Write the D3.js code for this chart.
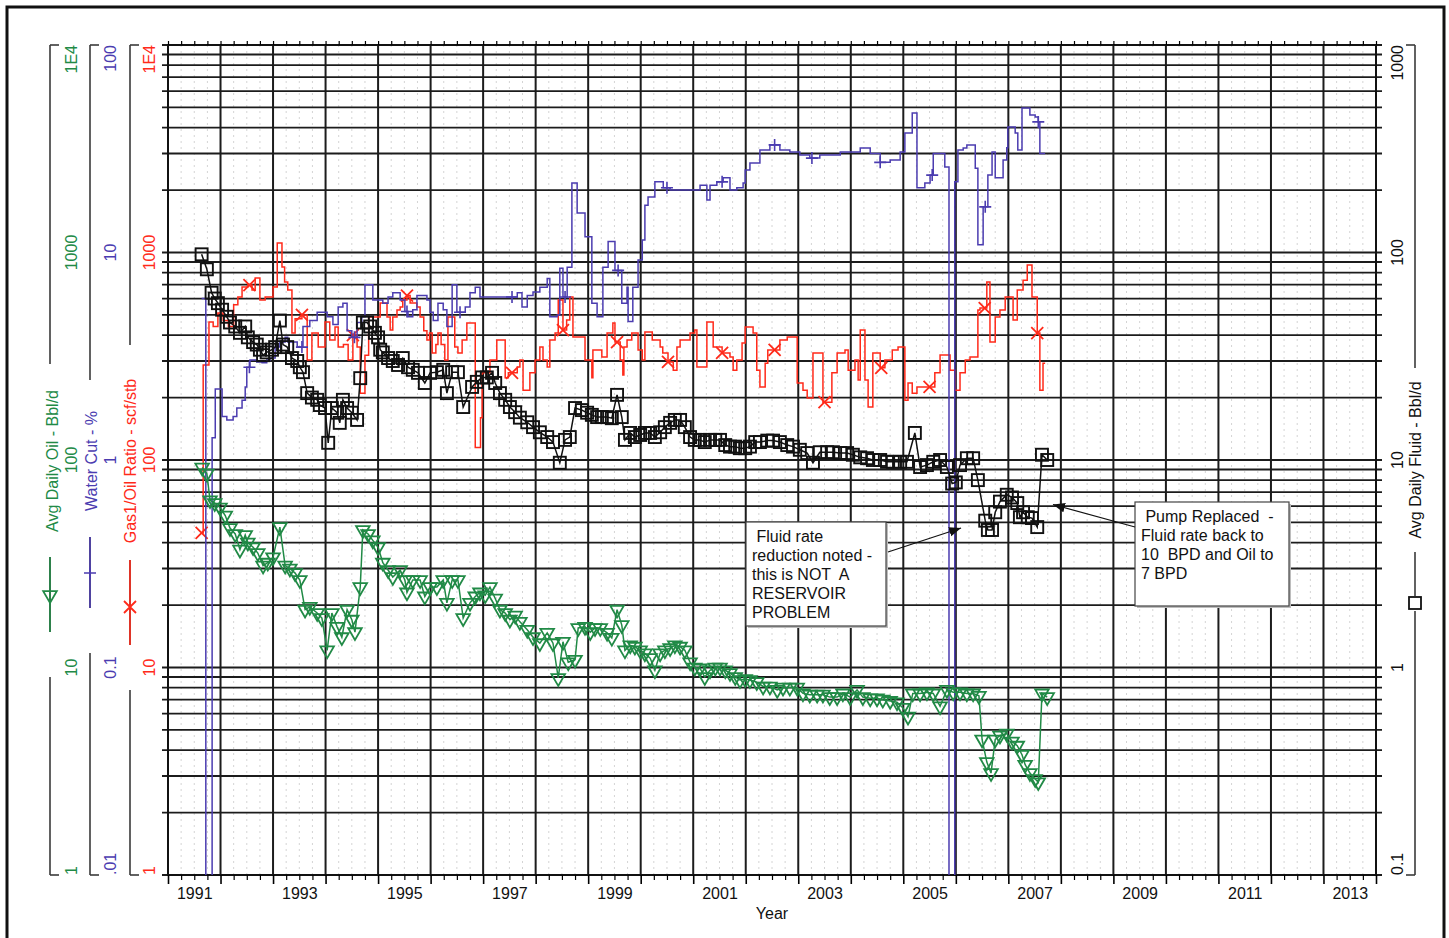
<!DOCTYPE html>
<html>
<head>
<meta charset="utf-8">
<script src="https://cdnjs.cloudflare.com/ajax/libs/d3/7.8.5/d3.min.js"></script>
<style>
  body { margin: 0; background: #fff; }
  svg { display: block; font-family: "Liberation Sans", Arial, sans-serif; }
</style>
</head>
<body>
<div id="chart"></div>
<script>
// ---- data: [decimal year, value] ----
var fluidPts = [[1991.64,98],[1991.74,83],[1991.83,64],[1991.89,60],[1991.95,57],[1992.03,53],[1992.12,49],[1992.18,46],[1992.28,44],[1992.37,41],[1992.47,44],[1992.52,39],[1992.62,37],[1992.69,36],[1992.75,34],[1992.81,32],[1992.88,33],[1992.98,34],[1993.04,35],[1993.13,47],[1993.19,36],[1993.27,35],[1993.36,31],[1993.46,30],[1993.51,28],[1993.57,26.5],[1993.65,21],[1993.74,20],[1993.84,19.5],[1993.89,18.4],[1993.99,17.8],[1994.05,12.1],[1994.12,17.8],[1994.22,16.9],[1994.27,15.1],[1994.33,19.5],[1994.41,17.8],[1994.50,16.9],[1994.60,15.6],[1994.66,24.8],[1994.71,46],[1994.79,46],[1994.85,44],[1994.94,41],[1995.00,39],[1995.04,34],[1995.09,33],[1995.19,31],[1995.28,30],[1995.38,28.7],[1995.47,31],[1995.57,28],[1995.66,27.2],[1995.76,26.3],[1995.89,23.5],[1995.99,26.3],[1996.12,26.5],[1996.24,27.2],[1996.31,21],[1996.41,26.5],[1996.52,26.5],[1996.62,18],[1996.79,22.5],[1996.88,23.8],[1996.98,25],[1997.07,25],[1997.17,26.3],[1997.23,23.5],[1997.32,21],[1997.42,19.5],[1997.51,18],[1997.61,17],[1997.70,16],[1997.84,15.2],[1997.95,14.4],[1998.08,13.6],[1998.22,12.9],[1998.33,12.2],[1998.46,9.7],[1998.56,12.5],[1998.65,12.9],[1998.75,17.8],[1998.88,17.4],[1998.98,16.9],[1999.07,16.5],[1999.17,16.1],[1999.26,16.1],[1999.36,16.1],[1999.45,15.9],[1999.55,20.6],[1999.64,16.1],[1999.70,12.5],[1999.80,13.5],[1999.89,12.9],[1999.99,13.2],[2000.08,13.5],[2000.18,13.5],[2000.27,12.9],[2000.37,13.6],[2000.46,14.4],[2000.56,15.1],[2000.65,15.6],[2000.75,15.6],[2000.84,14.4],[2000.94,12.9],[2001.03,12.5],[2001.13,12.5],[2001.22,12.2],[2001.32,12.5],[2001.42,12.5],[2001.51,12.5],[2001.61,11.8],[2001.70,11.6],[2001.80,11.6],[2001.89,11.4],[2001.99,11.4],[2002.08,11.6],[2002.18,12.2],[2002.27,12.2],[2002.41,12.4],[2002.52,12.4],[2002.65,12.2],[2002.79,11.8],[2002.90,11.6],[2003.03,11.2],[2003.17,10.8],[2003.28,9.7],[2003.41,10.9],[2003.55,10.9],[2003.66,10.9],[2003.80,10.8],[2003.93,10.8],[2004.04,10.6],[2004.18,10.3],[2004.31,10.2],[2004.42,10],[2004.56,10],[2004.69,9.8],[2004.80,9.8],[2004.94,9.8],[2005.07,9.8],[2005.22,13.5],[2005.32,9.25],[2005.45,9.45],[2005.57,9.8],[2005.70,10],[2005.83,9.25],[2005.93,7.7],[2006.00,7.8],[2006.08,9.45],[2006.21,10.2],[2006.33,10.2],[2006.42,8.0],[2006.56,5.1],[2006.61,4.6],[2006.69,4.6],[2006.75,5.6],[2006.84,6.3],[2006.97,6.8],[2007.07,6.6],[2007.17,6.2],[2007.22,5.3],[2007.28,5.6],[2007.37,5.3],[2007.45,5.25],[2007.55,4.75],[2007.64,10.6],[2007.74,10]];

var oilPts = [[1991.65,92],[1991.74,86],[1991.80,64],[1991.89,62],[1991.99,59],[1992.09,54],[1992.18,47],[1992.28,44],[1992.37,37],[1992.47,43.5],[1992.52,40],[1992.62,38],[1992.71,35.6],[1992.81,31],[1992.90,32],[1993.00,34],[1993.13,47.5],[1993.23,31],[1993.32,30],[1993.42,28.5],[1993.51,26.4],[1993.61,19],[1993.70,19.6],[1993.84,18.3],[1993.93,17.3],[1994.03,12.1],[1994.12,18.3],[1994.22,15.7],[1994.31,14],[1994.41,19],[1994.50,17],[1994.56,14.8],[1994.66,24.4],[1994.71,46],[1994.81,44],[1994.90,41],[1995.00,38],[1995.09,32],[1995.19,29.5],[1995.28,27.3],[1995.42,29.5],[1995.51,26.4],[1995.55,23],[1995.66,26.4],[1995.80,26.4],[1995.89,22],[1995.99,24.4],[1996.12,24.4],[1996.24,26.4],[1996.31,20.5],[1996.41,26.4],[1996.52,26.4],[1996.62,17.3],[1996.75,20.5],[1996.85,22],[1996.94,23],[1997.04,22.3],[1997.13,24.4],[1997.23,21.5],[1997.32,19],[1997.42,18.3],[1997.51,17],[1997.61,17.8],[1997.70,16.6],[1997.84,15.2],[1997.95,14],[1998.08,13.1],[1998.22,14.7],[1998.33,13.1],[1998.43,8.9],[1998.52,13.3],[1998.62,10.6],[1998.75,10.9],[1998.81,15.5],[1998.94,15.7],[1999.04,14.8],[1999.13,15.5],[1999.23,15.5],[1999.36,14.7],[1999.45,13.9],[1999.55,19],[1999.64,16],[1999.70,12.1],[1999.80,12.8],[1999.89,12.6],[1999.99,12.1],[2000.08,11.7],[2000.18,11.1],[2000.27,9.7],[2000.37,11.7],[2000.46,12.1],[2000.56,12.4],[2000.65,12.8],[2000.75,12.6],[2000.84,12.1],[2000.94,10.6],[2001.03,10.0],[2001.13,9.9],[2001.22,9.0],[2001.32,9.7],[2001.42,10],[2001.51,10],[2001.61,9.7],[2001.70,9.4],[2001.80,9.0],[2001.89,8.7],[2001.99,8.8],[2002.08,8.7],[2002.21,8.5],[2002.33,8.1],[2002.46,8.1],[2002.60,7.8],[2002.71,8.0],[2002.84,8.0],[2002.98,8.0],[2003.09,7.5],[2003.22,7.4],[2003.36,7.4],[2003.47,7.4],[2003.60,7.2],[2003.74,7.2],[2003.85,7.5],[2003.99,7.2],[2004.12,7.8],[2004.23,7.2],[2004.37,7.1],[2004.50,7.1],[2004.61,7.0],[2004.75,6.9],[2004.88,6.8],[2004.99,6.4],[2005.09,5.8],[2005.18,7.5],[2005.32,7.5],[2005.45,7.6],[2005.57,7.5],[2005.70,6.5],[2005.83,7.8],[2005.95,7.6],[2006.08,7.6],[2006.21,7.5],[2006.33,7.5],[2006.44,7.3],[2006.50,4.5],[2006.59,3.5],[2006.67,3.1],[2006.75,4.5],[2006.84,4.7],[2006.97,4.8],[2007.07,4.4],[2007.17,4.2],[2007.26,3.8],[2007.32,3.4],[2007.41,3.1],[2007.51,2.9],[2007.57,2.8],[2007.64,7.5],[2007.74,7.2]];

// step series: value holds until next entry
var gorSteps = [[1991.64,44.5],[1991.67,287],[1991.78,462],[1991.86,440],[1991.95,511],[1992.05,470],[1992.15,440],[1992.25,560],[1992.33,611],[1992.41,682],[1992.52,697],[1992.60,660],[1992.66,754],[1992.75,590],[1992.85,611],[1993.00,682],[1993.08,1111],[1993.17,851],[1993.22,720],[1993.28,659],[1993.36,409],[1993.42,480],[1993.55,500],[1993.65,303],[1993.74,409],[1993.86,350],[1993.99,462],[1994.08,379],[1994.18,437],[1994.24,350],[1994.34,360],[1994.43,303],[1994.52,400],[1994.60,350],[1994.66,210],[1994.75,320],[1994.82,489],[1994.90,489],[1995.04,571],[1995.17,489],[1995.23,423],[1995.28,489],[1995.36,528],[1995.42,546],[1995.47,590],[1995.55,620],[1995.61,571],[1995.74,546],[1995.80,489],[1995.87,420],[1995.93,379],[1995.98,409],[1996.03,328],[1996.10,360],[1996.14,409],[1996.20,360],[1996.27,303],[1996.33,489],[1996.46,350],[1996.52,328],[1996.60,379],[1996.69,457],[1996.80,457],[1996.85,115],[1996.95,160],[1996.98,263],[1997.07,263],[1997.13,303],[1997.20,303],[1997.26,379],[1997.35,379],[1997.42,249],[1997.48,263],[1997.55,263],[1997.65,281],[1997.70,303],[1997.76,217],[1997.85,217],[1997.89,263],[1997.99,303],[1998.08,350],[1998.14,303],[1998.22,281],[1998.27,379],[1998.37,409],[1998.43,590],[1998.52,423],[1998.59,473],[1998.65,611],[1998.71,391],[1998.94,303],[1999.07,249],[1999.09,339],[1999.26,314],[1999.36,409],[1999.47,457],[1999.51,370],[1999.61,303],[1999.66,257],[1999.68,350],[1999.74,379],[1999.83,409],[1999.95,339],[2000.03,303],[2000.08,414],[2000.22,379],[2000.37,350],[2000.42,328],[2000.52,297],[2000.62,271],[2000.69,350],[2000.75,379],[2000.94,409],[2001.03,423],[2001.07,281],[2001.26,462],[2001.38,350],[2001.55,328],[2001.70,314],[2001.76,271],[2001.83,303],[2001.93,366],[2001.99,437],[2002.14,409],[2002.21,271],[2002.27,225],[2002.37,293],[2002.42,339],[2002.65,379],[2002.79,391],[2002.98,235],[2003.09,217],[2003.17,199],[2003.28,328],[2003.47,190],[2003.64,263],[2003.74,328],[2003.89,339],[2003.95,271],[2004.08,303],[2004.14,243],[2004.18,423],[2004.27,243],[2004.33,180],[2004.42,328],[2004.56,278],[2004.65,303],[2004.79,339],[2004.90,350],[2005.03,194],[2005.09,235],[2005.17,210],[2005.26,225],[2005.60,263],[2005.70,321],[2005.89,271],[2005.98,217],[2006.08,263],[2006.18,303],[2006.27,314],[2006.42,528],[2006.46,540],[2006.59,721],[2006.65,370],[2006.75,489],[2006.84,528],[2006.94,611],[2007.09,473],[2007.17,659],[2007.28,734],[2007.36,871],[2007.45,611],[2007.55,409],[2007.60,217],[2007.66,293],[2007.70,293]];

var wcSteps = [[1991.64,6.0],[1991.72,0.005],[1991.84,1.28],[1991.90,2.2],[1992.03,1.62],[1992.12,1.56],[1992.24,1.62],[1992.31,1.78],[1992.41,1.94],[1992.47,2.25],[1992.50,2.8],[1992.56,3.03],[1992.69,2.97],[1992.79,2.94],[1992.88,3.03],[1992.94,3.1],[1993.04,3.5],[1993.13,3.7],[1993.23,3.9],[1993.28,3.7],[1993.46,3.5],[1993.57,4.4],[1993.70,4.7],[1993.84,5.15],[1994.03,4.9],[1994.14,4.5],[1994.24,5.46],[1994.33,5.7],[1994.41,4.2],[1994.50,3.9],[1994.60,4.6],[1994.69,4.9],[1994.75,7.0],[1994.90,5.9],[1995.09,5.7],[1995.19,6.1],[1995.28,6.4],[1995.42,5.9],[1995.51,5.2],[1995.57,4.9],[1995.66,5.3],[1995.74,6.2],[1995.93,5.9],[1995.99,5.15],[1996.05,4.7],[1996.14,5.7],[1996.24,5.3],[1996.31,4.4],[1996.41,7.0],[1996.50,5.15],[1996.66,5.46],[1996.75,6.4],[1996.85,6.8],[1996.94,6.1],[1997.65,6.4],[1997.74,5.46],[1997.84,6.2],[1997.95,6.45],[1998.08,6.8],[1998.22,7.5],[1998.27,4.9],[1998.41,5.0],[1998.46,8.4],[1998.52,6.1],[1998.60,8.5],[1998.69,21.6],[1998.79,15.5],[1998.94,11.9],[1999.07,5.7],[1999.17,4.9],[1999.28,8.5],[1999.38,11.3],[1999.51,8.2],[1999.64,5.7],[1999.74,6.8],[1999.76,4.65],[1999.85,6.8],[1999.95,9.2],[2000.03,11.5],[2000.08,16.9],[2000.14,18.5],[2000.27,21.9],[2000.43,20.5],[2000.56,20.0],[2001.13,21.1],[2001.26,17.9],[2001.32,21.1],[2001.45,21.9],[2001.57,22.9],[2001.70,20.0],[2001.83,20.5],[2001.95,21.6],[2001.99,25],[2002.08,27],[2002.27,31.2],[2002.46,33],[2002.65,31.2],[2002.84,30.5],[2003.03,29.5],[2003.22,28.5],[2003.41,29.5],[2003.80,30.5],[2004.18,31.9],[2004.37,30],[2004.56,27.2],[2004.75,27.9],[2004.94,30.5],[2005.03,37.7],[2005.17,47],[2005.26,20.5],[2005.41,21.6],[2005.51,23.6],[2005.57,30],[2005.74,30],[2005.79,25.8],[2005.87,0.005],[2005.98,21.9],[2006.04,31.2],[2006.14,31.9],[2006.21,33],[2006.37,25.5],[2006.42,10.9],[2006.52,16.6],[2006.61,23.6],[2006.69,30.5],[2006.75,22.9],[2006.90,27.9],[2006.97,32],[2006.99,40.3],[2007.13,37.7],[2007.18,31.2],[2007.26,49.7],[2007.41,46],[2007.51,45],[2007.57,42.6],[2007.60,30],[2007.70,30]];

var gorMarkYears = [1991.64,1992.55,1993.55,1994.52,1995.55,1997.55,1998.52,1999.55,2000.52,2001.55,2002.55,2003.5,2004.58,2005.5,2006.55,2007.55];
var wcMarkYears = [1992.55,1993.55,1994.55,1995.55,1996.56,1997.55,1998.56,1999.57,2000.5,2001.55,2002.55,2003.26,2004.56,2005.55,2006.56,2007.57];

var yearLabels = [1991,1993,1995,1997,1999,2001,2003,2005,2007,2009,2011,2013];
var oilTicks = [1,10,100,1000,10000], oilTickText = ["1","10","100","1000","1E4"];
var wcTicks = [0.01,0.1,1,10,100], wcTickText = [".01","0.1","1","10","100"];
var gorTicks = [1,10,100,1000,10000], gorTickText = ["1","10","100","1000","1E4"];
var fluidTicks = [0.1,1,10,100,1000], fluidTickText = ["0.1","1","10","100","1000"];

var notes = [
  {lines:[" Fluid rate","reduction noted -","this is NOT  A","RESERVOIR","PROBLEM"], box:[746,522,886,626], from:[888,552], to:[2006.1,4.7]},
  {lines:[" Pump Replaced  -","Fluid rate back to","10  BPD and Oil to","7 BPD"], box:[1135,502,1289,606], from:[1135,527], to:[2007.85,6.1]}
];

// ---- layout ----
var W = 1449, H = 938;
var L = 168, R = 1376, T = 45, B = 875;
var green = "#218a46", purple = "#4b3cb0", red = "#ff2a1a";

var svg = d3.select("#chart").append("svg").attr("width", W).attr("height", H);
svg.append("rect").attr("width", W).attr("height", H).attr("fill", "#fff");
svg.append("path").attr("d", "M7,945V7H1444V945").attr("fill", "none").attr("stroke", "#111").attr("stroke-width", 3);

var x = d3.scaleLinear().domain([1991, 2014]).range([L, R]);
var yFluid = d3.scaleLog().domain([0.1, 1000]).range([B, T]);
var yOil = d3.scaleLog().domain([1, 1e4]).range([B, T]);
var yGor = d3.scaleLog().domain([1, 1e4]).range([B, T]);
var yWc = d3.scaleLog().domain([0.01, 100]).range([B, T]);

// faint quarter-year lines
var quarters = d3.range(1991, 2014.001, 0.25).filter(function(d){ return d % 1 !== 0; });
svg.append("g").selectAll("line").data(quarters).enter().append("line")
  .attr("x1", function(d){ return x(d); }).attr("x2", function(d){ return x(d); })
  .attr("y1", T).attr("y2", B)
  .attr("stroke", "#d4d4d4").attr("stroke-width", 1).attr("stroke-dasharray", "2,4");

// horizontal log grid
svg.append("g").selectAll("line").data(yFluid.ticks()).enter().append("line")
  .attr("x1", L - 6).attr("x2", R + 6)
  .attr("y1", function(d){ return yFluid(d); }).attr("y2", function(d){ return yFluid(d); })
  .attr("stroke", "#1c1c1c").attr("stroke-width", 1.8);

// yearly vertical grid
svg.append("g").selectAll("line").data(d3.range(1992, 2014)).enter().append("line")
  .attr("x1", function(d){ return x(d); }).attr("x2", function(d){ return x(d); })
  .attr("y1", T).attr("y2", B)
  .attr("stroke", "#1c1c1c").attr("stroke-width", 2);

svg.append("rect").attr("x", L).attr("y", T).attr("width", R - L).attr("height", B - T)
  .attr("fill", "none").attr("stroke", "#111").attr("stroke-width", 2);

// x axis ticks and labels
var years = d3.range(1991, 2015);
svg.append("g").attr("transform", "translate(0," + B + ")")
  .call(d3.axisBottom(x).tickValues(quarters).tickSize(5).tickFormat(""))
  .call(function(g){ g.select(".domain").remove(); g.selectAll("line").attr("stroke-width", 1.2); });
svg.append("g").attr("transform", "translate(0," + B + ")")
  .call(d3.axisBottom(x).tickValues(years).tickSize(9).tickFormat(""))
  .call(function(g){ g.select(".domain").remove(); g.selectAll("line").attr("stroke-width", 1.6); });
svg.append("g").attr("transform", "translate(0," + T + ")")
  .call(d3.axisTop(x).tickValues(quarters.concat(years)).tickSize(4).tickFormat(""))
  .call(function(g){ g.select(".domain").remove(); g.selectAll("line").attr("stroke-width", 1.2); });
svg.append("g").attr("transform", "translate(0," + (B + 10) + ")")
  .call(d3.axisBottom(x).tickValues(yearLabels.map(function(d){ return d + 0.5; })).tickSize(0)
        .tickFormat(function(d){ return Math.floor(d); }))
  .call(function(g){
    g.select(".domain").remove();
    g.selectAll("text").attr("font-size", 16).attr("fill", "#111")
      .attr("font-family", "'Liberation Sans', Arial, sans-serif");
  });
svg.append("text").attr("x", 772).attr("y", 919).attr("text-anchor", "middle")
  .attr("font-size", 16).attr("fill", "#111").text("Year");

// ---- vertical axes ----
function tickLabels(scale, ticks, texts, cx, color) {
  svg.append("g").selectAll("text").data(ticks).enter().append("text")
    .attr("transform", function(d){ return "translate(" + cx + "," + scale(d) + ") rotate(-90)"; })
    .attr("text-anchor", function(d, i){ return i === 0 ? "start" : (i === ticks.length - 1 ? "end" : "middle"); })
    .attr("dy", "0.36em")
    .attr("font-size", 16).attr("fill", color)
    .text(function(d, i){ return texts[i]; });
}
function axisTitle(text, cx, cy, color) {
  svg.append("text").attr("transform", "translate(" + cx + "," + cy + ") rotate(-90)")
    .attr("text-anchor", "middle").attr("dy", "0.36em").attr("font-size", 16).attr("fill", color).text(text);
}
function axisLine(ax, segs, dir) {
  var g = svg.append("g").attr("stroke", "#3a3a3a").attr("stroke-width", 1.6).attr("fill", "none");
  segs.forEach(function(s){ g.append("line").attr("x1", ax).attr("x2", ax).attr("y1", s[0]).attr("y2", s[1]); });
  g.append("line").attr("x1", ax).attr("x2", ax + dir * 9).attr("y1", T).attr("y2", T);
  g.append("line").attr("x1", ax).attr("x2", ax + dir * 9).attr("y1", B).attr("y2", B);
}

// oil (green)
axisLine(50, [[T, 364], [557, 632], [677, B]], 1);
tickLabels(yOil, oilTicks, oilTickText, 71, green);
axisTitle("Avg Daily Oil - Bbl/d", 52, 461, green);
svg.append("line").attr("x1", 50).attr("x2", 50).attr("y1", 557).attr("y2", 632).attr("stroke", green).attr("stroke-width", 1.6);
svg.append("path").attr("d", d3.symbol(d3.symbolTriangle, 80)()).attr("transform", "translate(50,595) rotate(180)")
  .attr("fill", "none").attr("stroke", green).attr("stroke-width", 1.8);

// water cut (purple)
axisLine(90, [[T, 380], [537, 608], [653, B]], 1);
tickLabels(yWc, wcTicks, wcTickText, 110, purple);
axisTitle("Water Cut - %", 91, 461, purple);
svg.append("line").attr("x1", 90).attr("x2", 90).attr("y1", 537).attr("y2", 608).attr("stroke", purple).attr("stroke-width", 1.6);
svg.append("path").attr("d", "M-6,0H6M0,-6V6").attr("transform", "translate(90,573)")
  .attr("stroke", purple).attr("stroke-width", 1.6);

// GOR (red)
axisLine(130, [[T, 345], [560, 645], [690, B]], 1);
tickLabels(yGor, gorTicks, gorTickText, 149, red);
axisTitle("Gas1/Oil Ratio - scf/stb", 130, 461, red);
svg.append("line").attr("x1", 130).attr("x2", 130).attr("y1", 560).attr("y2", 645).attr("stroke", red).attr("stroke-width", 1.6);
svg.append("path").attr("d", "M-6,-6L6,6M-6,6L6,-6").attr("transform", "translate(130,607)")
  .attr("stroke", red).attr("stroke-width", 1.8);

// fluid (right, black)
axisLine(1415, [[T, 368], [552, 596], [611, B]], -1);
tickLabels(yFluid, fluidTicks, fluidTickText, 1397, "#111");
axisTitle("Avg Daily Fluid - Bbl/d", 1415, 460, "#111");
svg.append("rect").attr("x", 1409).attr("y", 597).attr("width", 12).attr("height", 12)
  .attr("fill", "none").attr("stroke", "#111").attr("stroke-width", 1.8);

// ---- data ----
svg.append("clipPath").attr("id", "plotclip").append("rect")
  .attr("x", L).attr("y", T).attr("width", R - L).attr("height", B - T);
var data = svg.append("g").attr("clip-path", "url(#plotclip)");

function valueAt(steps, t) {
  var v = steps[0][1];
  steps.forEach(function(s){ if (s[0] <= t) v = s[1]; });
  return v;
}

// GOR step line
data.append("path").datum(gorSteps)
  .attr("d", d3.line().curve(d3.curveStepAfter).x(function(d){ return x(d[0]); }).y(function(d){ return yGor(d[1]); }))
  .attr("fill", "none").attr("stroke", red).attr("stroke-width", 1.5);
data.append("g").selectAll("path").data(gorMarkYears).enter().append("path")
  .attr("d", "M-6,-6L6,6M-6,6L6,-6")
  .attr("transform", function(d){ return "translate(" + x(d) + "," + yGor(valueAt(gorSteps, d)) + ")"; })
  .attr("stroke", red).attr("stroke-width", 1.8);

// water cut step line
data.append("path").datum(wcSteps)
  .attr("d", d3.line().curve(d3.curveStepAfter).x(function(d){ return x(d[0]); }).y(function(d){ return yWc(d[1]); }))
  .attr("fill", "none").attr("stroke", purple).attr("stroke-width", 1.5);
data.append("g").selectAll("path").data(wcMarkYears).enter().append("path")
  .attr("d", "M-6,0H6M0,-6V6")
  .attr("transform", function(d){ return "translate(" + x(d) + "," + yWc(valueAt(wcSteps, d)) + ")"; })
  .attr("stroke", purple).attr("stroke-width", 1.6);

// oil
data.append("path").datum(oilPts)
  .attr("d", d3.line().x(function(d){ return x(d[0]); }).y(function(d){ return yOil(d[1]); }))
  .attr("fill", "none").attr("stroke", green).attr("stroke-width", 1.5);
data.append("g").selectAll("path").data(oilPts).enter().append("path")
  .attr("d", d3.symbol(d3.symbolTriangle, 80)())
  .attr("transform", function(d){ return "translate(" + x(d[0]) + "," + yOil(d[1]) + ") rotate(180)"; })
  .attr("fill", "none").attr("stroke", green).attr("stroke-width", 1.8);

// fluid
data.append("path").datum(fluidPts)
  .attr("d", d3.line().x(function(d){ return x(d[0]); }).y(function(d){ return yFluid(d[1]); }))
  .attr("fill", "none").attr("stroke", "#111").attr("stroke-width", 1.5);
data.append("g").selectAll("rect").data(fluidPts).enter().append("rect")
  .attr("x", function(d){ return x(d[0]) - 6; }).attr("y", function(d){ return yFluid(d[1]) - 6; })
  .attr("width", 12).attr("height", 12)
  .attr("fill", "none").attr("stroke", "#111").attr("stroke-width", 1.9);

// ---- annotations ----
svg.append("defs").append("marker").attr("id", "arrow")
  .attr("viewBox", "0 0 10 10").attr("refX", 10).attr("refY", 5)
  .attr("markerWidth", 12).attr("markerHeight", 12).attr("markerUnits", "userSpaceOnUse")
  .attr("orient", "auto")
  .append("path").attr("d", "M0,1L10,5L0,9Z").attr("fill", "#111");

notes.forEach(function(n){
  var b = n.box;
  svg.append("rect").attr("x", b[0] + 2).attr("y", b[1] + 2).attr("width", b[2] - b[0]).attr("height", b[3] - b[1])
    .attr("fill", "#bdbdbd");
  svg.append("rect").attr("x", b[0]).attr("y", b[1]).attr("width", b[2] - b[0]).attr("height", b[3] - b[1])
    .attr("fill", "#fff").attr("stroke", "#444").attr("stroke-width", 1.2);
  var t = svg.append("text").attr("x", b[0] + 6).attr("y", b[1] + 20).attr("font-size", 16).attr("fill", "#111")
    .attr("xml:space", "preserve");
  n.lines.forEach(function(s, i){
    t.append("tspan").attr("x", b[0] + 6).attr("dy", i === 0 ? 0 : 19).text(s);
  });
  svg.append("line").attr("x1", n.from[0]).attr("y1", n.from[1])
    .attr("x2", x(n.to[0])).attr("y2", yFluid(n.to[1]))
    .attr("stroke", "#111").attr("stroke-width", 1.2).attr("marker-end", "url(#arrow)");
});
</script>
</body>
</html>
